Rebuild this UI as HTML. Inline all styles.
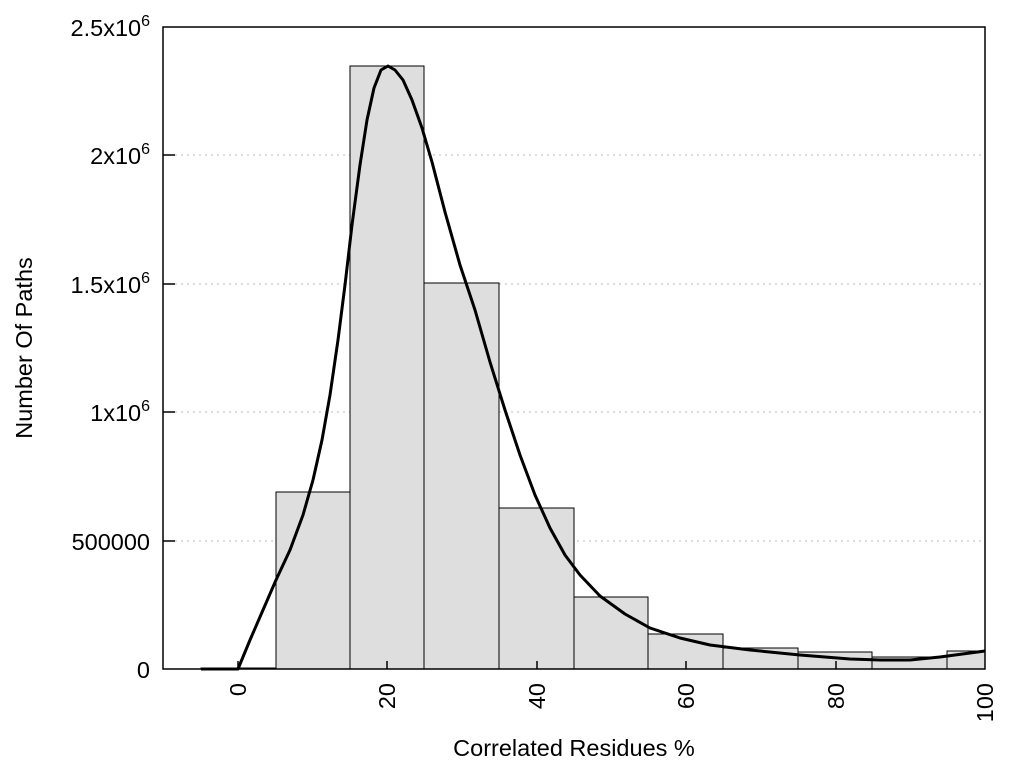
<!DOCTYPE html>
<html><head><meta charset="utf-8"><style>body{margin:0;background:#fff}</style></head><body>
<svg width="1024" height="768" xmlns="http://www.w3.org/2000/svg" font-family="Liberation Sans, Arial, sans-serif" font-size="23.5">
<g stroke="#bbb" stroke-dasharray="2,4" stroke-width="1">
<line x1="163" y1="541" x2="985" y2="541"/><line x1="163" y1="412" x2="985" y2="412"/>
<line x1="163" y1="284" x2="985" y2="284"/><line x1="163" y1="155" x2="985" y2="155"/>
</g>
<g fill="#dedede" stroke="#000" stroke-width="1">
<rect x="201" y="668" width="75" height="1"/>
<rect x="276" y="492" width="74" height="177"/>
<rect x="350" y="66" width="74" height="603"/>
<rect x="424" y="283" width="75" height="386"/>
<rect x="499" y="508" width="75" height="161"/>
<rect x="574" y="597" width="74" height="72"/>
<rect x="648" y="634" width="75" height="35"/>
<rect x="723" y="648" width="75" height="21"/>
<rect x="798" y="652" width="74" height="17"/>
<rect x="872" y="657" width="75" height="12"/>
<rect x="947" y="651" width="38" height="18"/>
</g>
<polyline fill="none" stroke="#000" stroke-width="3" stroke-linejoin="round" points="201,669 238,669 250,640 263,610 276,580 290,550 303,515 313,480 322,440 330,395 338,340 345,285 352,225 360,165 367,120 374,88 381,70 388,66 395,70 403,80 412,100 422,128 432,162 445,212 460,265 475,310 490,362 505,410 520,455 535,495 550,528 565,555 580,575 600,596 625,614 650,628 680,638 710,645 750,650 800,655 850,659 880,660 910,660 940,657 985,651"/>
<rect x="163" y="27" width="822" height="642" fill="none" stroke="#000" stroke-width="1.5"/>
<g stroke="#000" stroke-width="1.5">
<line x1="163" y1="541" x2="175" y2="541"/><line x1="163" y1="412" x2="175" y2="412"/>
<line x1="163" y1="284" x2="175" y2="284"/><line x1="163" y1="155" x2="175" y2="155"/>
<line x1="238" y1="669" x2="238" y2="661"/><line x1="387" y1="669" x2="387" y2="661"/>
<line x1="537" y1="669" x2="537" y2="661"/><line x1="686" y1="669" x2="686" y2="661"/>
<line x1="836" y1="669" x2="836" y2="661"/>
</g>
<g text-anchor="end">
<text x="150" y="678">0</text>
<text x="150" y="550">500000</text>
<text x="150" y="421">1x10<tspan dy="-10" font-size="16">6</tspan></text>
<text x="150" y="293">1.5x10<tspan dy="-10" font-size="16">6</tspan></text>
<text x="150" y="164">2x10<tspan dy="-10" font-size="16">6</tspan></text>
<text x="150" y="36">2.5x10<tspan dy="-10" font-size="16">6</tspan></text>
</g>
<g text-anchor="end">
<text transform="translate(246,683) rotate(-90)">0</text>
<text transform="translate(395,683) rotate(-90)">20</text>
<text transform="translate(545,683) rotate(-90)">40</text>
<text transform="translate(694,683) rotate(-90)">60</text>
<text transform="translate(844,683) rotate(-90)">80</text>
<text transform="translate(993,683) rotate(-90)">100</text>
</g>
<text x="574" y="756" text-anchor="middle">Correlated Residues %</text>
<text transform="translate(32,348) rotate(-90)" text-anchor="middle">Number Of Paths</text>
</svg>
</body></html>
